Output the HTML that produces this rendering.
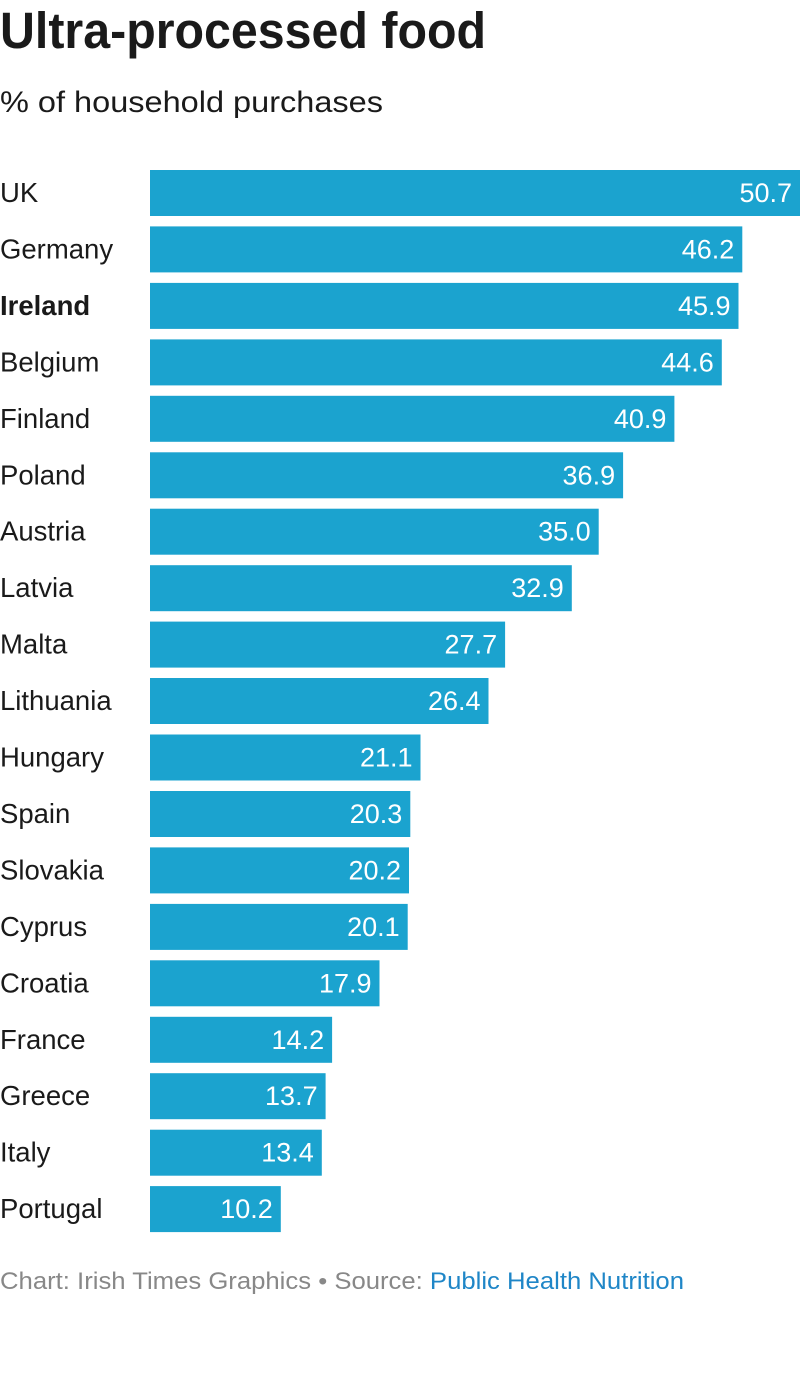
<!DOCTYPE html>
<html><head><meta charset="utf-8"><style>
html,body{margin:0;padding:0;background:#fff;width:800px;height:1388px;overflow:hidden}
svg{display:block;font-family:"Liberation Sans",Arial,sans-serif}
</style></head><body>
<svg width="800" height="1388" viewBox="0 0 800 1388" xmlns="http://www.w3.org/2000/svg">
<text x="0" y="48" font-size="51" font-weight="bold" fill="#1a1a1a" textLength="486" lengthAdjust="spacingAndGlyphs">Ultra-processed food</text>
<text x="0" y="112" font-size="30" fill="#1a1a1a" textLength="383" lengthAdjust="spacingAndGlyphs">% of household purchases</text>
<g id="bars"></g>
<text x="0" y="1289" font-size="24" fill="#888" textLength="684" lengthAdjust="spacingAndGlyphs">Chart: Irish Times Graphics • Source: <tspan fill="#1f86c7">Public Health Nutrition</tspan></text>
</svg>
<script>
var d=[["UK",50.7],["Germany",46.2],["Ireland",45.9],["Belgium",44.6],["Finland",40.9],["Poland",36.9],["Austria",35.0],["Latvia",32.9],["Malta",27.7],["Lithuania",26.4],["Hungary",21.1],["Spain",20.3],["Slovakia",20.2],["Cyprus",20.1],["Croatia",17.9],["France",14.2],["Greece",13.7],["Italy",13.4],["Portugal",10.2]];
var g=document.getElementById("bars"),s="";
d.forEach(function(r,i){var y=170+i*56.45,w=r[1]*650/50.7;
s+='<rect x="150" y="'+y.toFixed(1)+'" width="'+w.toFixed(1)+'" height="46" fill="#1ba3cf"/>';
s+='<text x="0" y="'+(y+32).toFixed(1)+'" font-size="27.5" fill="#1a1a1a"'+(r[0]=="Ireland"?' font-weight="bold"':'')+'>'+r[0]+'</text>';
s+='<text x="'+(150+w-8).toFixed(1)+'" y="'+(y+32).toFixed(1)+'" font-size="27" fill="#fff" text-anchor="end">'+r[1].toFixed(1)+'</text>';});
g.innerHTML=s;
</script>
</body></html>
